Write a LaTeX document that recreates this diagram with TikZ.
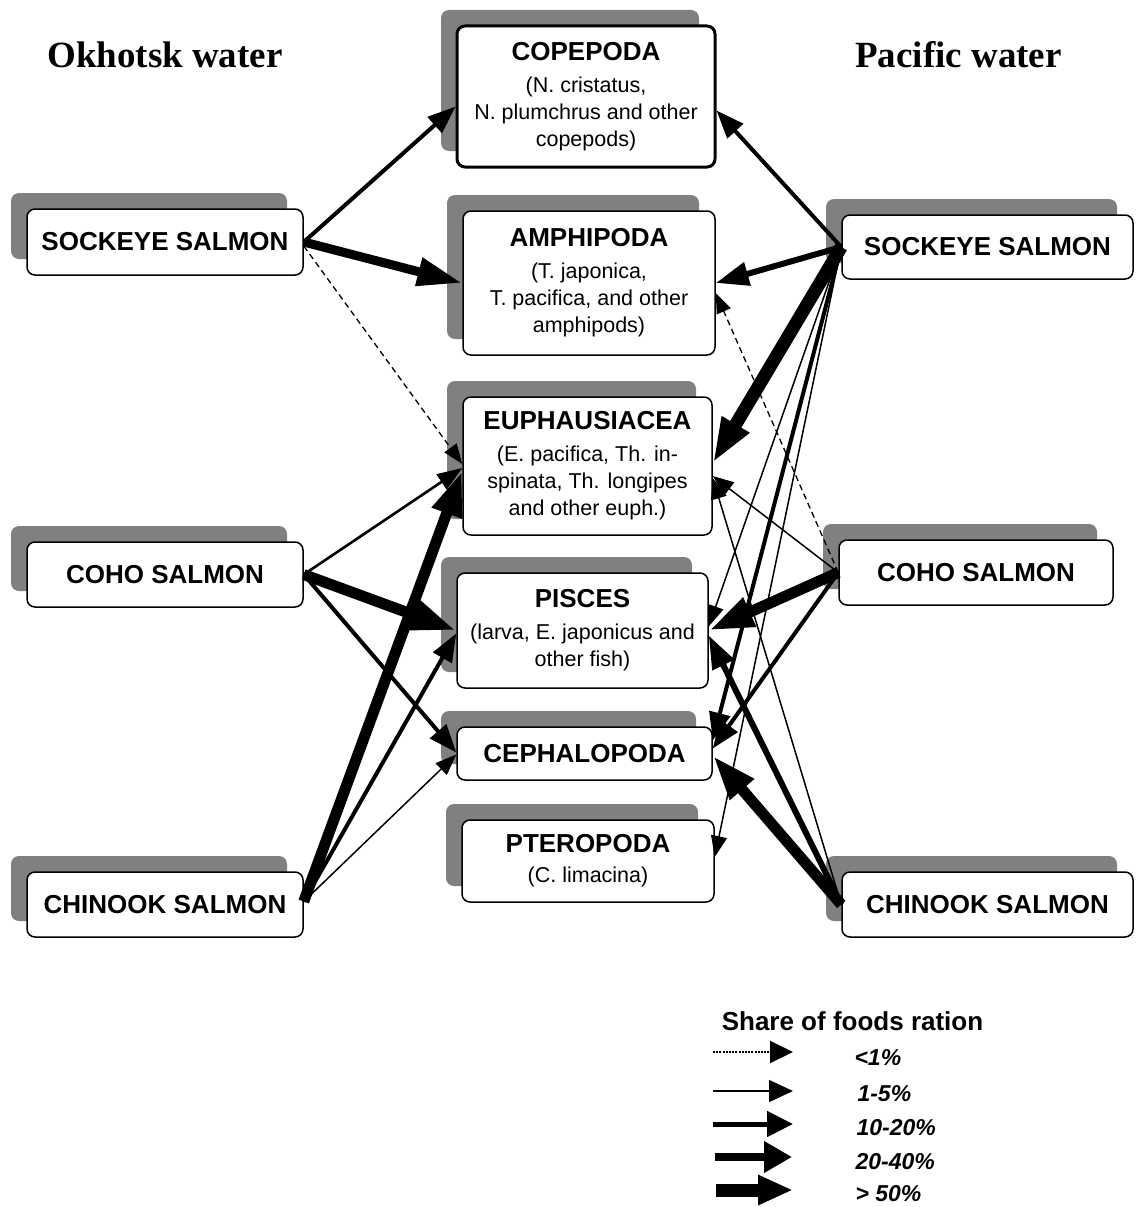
\documentclass[tikz,border=0pt]{standalone}
\usepackage{fontspec}
\setmainfont{Liberation Sans}
\newfontfamily\titleserif{Liberation Serif}
\usetikzlibrary{arrows.meta,shadows}
\newcommand\boxtitle[1]{{\fontsize{26}{30}\selectfont\bfseries #1}}
\tikzset{
  box/.style={draw=black, line width=1.5pt, fill=white, rounded corners=8pt,
    align=center, inner sep=0pt,
    drop shadow={shadow xshift=-16pt, shadow yshift=16pt, fill=black!50, opacity=1, draw=none}},
  salmon/.style={box, font=\fontsize{26}{30}\selectfont\bfseries},
  prey/.style={box, font=\fontsize{21.5}{27}\selectfont},
  head/.style={font=\titleserif\fontsize{37}{40}\selectfont\bfseries},
  a1/.style={line width=1.3pt, dash pattern=on 6pt off 4pt, -{Triangle[length=20pt,width=15pt]}},
  a5/.style={line width=1.5pt, -{Triangle[length=21pt,width=16pt]}},
  a10/.style={line width=2.6pt, -{Triangle[length=25pt,width=18pt]}},
  a20/.style={line width=4pt, -{Triangle[length=28pt,width=21pt]}},
  a30/.style={line width=6pt, -{Triangle[length=33pt,width=23pt]}},
  a50/.style={line width=11pt, -{Triangle[length=45pt,width=29pt]}},
  legtxt/.style={anchor=west, font=\fontsize{23}{26}\selectfont\bfseries\itshape},
}
\begin{document}
\begin{tikzpicture}[x=1pt,y=-1pt]
\useasboundingbox (0,0) rectangle (1141,1207);
\fill[white] (0,0) rectangle (1141,1207);

% headers
\node[head] (hOk) at (165,55) {Okhotsk water};
\node[head] (hPa) at (958.5,55) {Pacific water};

% salmon boxes
\node[salmon, minimum width=276pt, minimum height=66pt] (sockL) at (165,242) {SOCKEYE SALMON};
\node[salmon, minimum width=276pt, minimum height=65pt] (cohoL) at (165,574.5) {COHO SALMON};
\node[salmon, minimum width=276pt, minimum height=65pt] (chinL) at (165,904.5) {CHINOOK SALMON};
\node[salmon, minimum width=291pt, minimum height=64pt] (sockR) at (987.5,247) {SOCKEYE SALMON};
\node[salmon, minimum width=274pt, minimum height=65pt] (cohoR) at (976,572.5) {COHO SALMON};
\node[salmon, minimum width=291pt, minimum height=65pt] (chinR) at (987.5,904.5) {CHINOOK SALMON};

% prey boxes
\node[prey, line width=3pt, minimum width=258pt, minimum height=141pt] (cop) at (586,96.5)
  {\boxtitle{COPEPODA}\\[5pt](N. cristatus,\\N. plumchrus and other\\copepods)};
\node[prey, minimum width=252pt, minimum height=144pt] (amph) at (589,283)
  {\boxtitle{AMPHIPODA}\\[5pt](T. japonica,\\T. pacifica, and other\\amphipods)};
\node[prey, minimum width=249pt, minimum height=138pt] (euph) at (587.5,466)
  {\boxtitle{EUPHAUSIACEA}\\[5pt](E. pacifica, Th. in-\\spinata, Th. longipes\\and other euph.)};
\node[prey, minimum width=251pt, minimum height=115pt] (pisc) at (582.5,630.5)
  {\boxtitle{PISCES}\\[5pt](larva, E. japonicus and\\other fish)};
\node[prey, minimum width=255pt, minimum height=53pt] (ceph) at (584.5,753.5)
  {\boxtitle{CEPHALOPODA}};
\node[prey, minimum width=252pt, minimum height=82pt] (pter) at (588,861)
  {\boxtitle{PTEROPODA}\\[3pt](C. limacina)};

% Okhotsk connectors
\draw[a20] (sockL.east) -- ([yshift=-10pt]cop.west);
\draw[a30, line width=9pt, -{Triangle[length=45pt,width=27pt]}] (sockL.east) -- (amph.west);
\draw[a1] ([yshift=-4pt]sockL.east) -- ([yshift=2pt]euph.west);
\draw[a10] (cohoL.east) -- ([yshift=-2pt]euph.west);
\draw[a50] (cohoL.east) -- (pisc.west);
\draw[a20] (cohoL.east) -- ([yshift=1pt]ceph.west);
\draw[a50] ([yshift=3pt]chinL.east) -- ([yshift=-5pt]euph.west);
\draw[a20] ([yshift=3pt]chinL.east) -- ([yshift=-3pt]pisc.west);
\draw[a5] ([yshift=3pt]chinL.east) -- ([yshift=-1pt]ceph.west);

% Pacific connectors
\draw[a20] (sockR.west) -- ([yshift=-14pt]cop.east);
\draw[a30] (sockR.west) -- (amph.east);
\draw[a50, line width=13pt] (sockR.west) -- ([yshift=3pt]euph.east);
\draw[a5] (sockR.west) -- ([yshift=4pt]pisc.east);
\draw[a20] (sockR.west) -- ([yshift=13pt]ceph.east);
\draw[a5] (sockR.west) -- ([yshift=4pt]pter.east);
\draw[a1] (cohoR.west) -- ([yshift=-10pt]amph.east);
\draw[a5] (cohoR.west) -- ([yshift=-10pt]euph.east);
\draw[a50] (cohoR.west) -- (pisc.east);
\draw[a20] (cohoR.west) -- ([yshift=5pt]ceph.east);
\draw[a5] (chinR.west) -- ([yshift=-12pt]euph.east);
\draw[a30] (chinR.west) -- ([yshift=-5pt]pisc.east);
\draw[a50] (chinR.west) -- ([yshift=-2pt]ceph.east);

% legend
\node[font=\fontsize{26}{30}\selectfont\bfseries] (legt) at (852.5,1021) {Share of foods ration};
\coordinate (l1s) at (713,1052); \coordinate (l1e) at (793,1052);
\coordinate (l2s) at (713,1091); \coordinate (l2e) at (793,1091);
\coordinate (l3s) at (713,1124); \coordinate (l3e) at (793,1124);
\coordinate (l4s) at (715,1157); \coordinate (l4e) at (792,1157);
\coordinate (l5s) at (716,1190); \coordinate (l5e) at (793,1190);
\draw[line width=2pt, dash pattern=on 2pt off 1.2pt, -{Triangle[length=23pt,width=22pt]}] (l1s) -- (l1e);
\draw[line width=1.5pt, -{Triangle[length=24pt,width=22pt]}] (l2s) -- (l2e);
\draw[line width=5pt, -{Triangle[length=26pt,width=25pt]}] (l3s) -- (l3e);
\draw[line width=8.5pt, -{Triangle[length=28pt,width=30pt]}] (l4s) -- (l4e);
\draw[line width=13pt, -{Triangle[length=35pt,width=28pt]}] (l5s) -- (l5e);
\node[legtxt] (t1) at (851,1058) {<1\%};
\node[legtxt] (t2) at (854,1094) {1-5\%};
\node[legtxt] (t3) at (853,1128) {10-20\%};
\node[legtxt] (t4) at (852,1162) {20-40\%};
\node[legtxt] (t5) at (852,1194) {> 50\%};
\end{tikzpicture}
\end{document}
